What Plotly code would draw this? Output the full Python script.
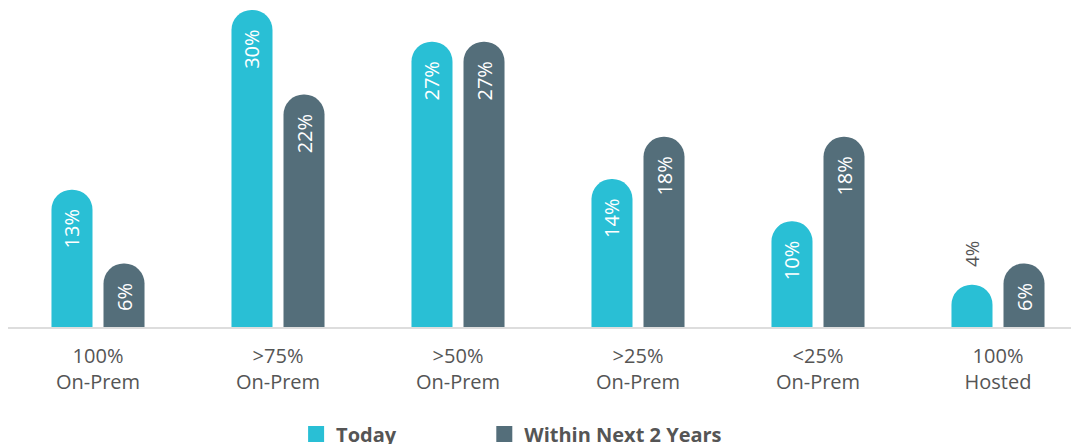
import plotly.graph_objects as go

categories = ["100%<br>On-Prem", ">75%<br>On-Prem", ">50%<br>On-Prem",
              ">25%<br>On-Prem", "<25%<br>On-Prem", "100%<br>Hosted"]
today = [13, 30, 27, 14, 10, 4]
next2 = [6, 22, 27, 18, 18, 6]
series_names = ["Today", "Within Next 2 Years"]
colors = ["#29BFD5", "#546E7A"]

FONT = "Open Sans"
NB = "\u00a0"

def labels(vals):
    out = []
    for v in vals:
        if v < 5:
            out.append(NB * 3 + f"{v}%")
        else:
            out.append(f"{v}%" + NB * 2)
    return out

def text_pos(vals):
    return ["outside" if v < 5 else "inside" for v in vals]

legend_pad = [NB * 16, ""]

fig = go.Figure()
for name, vals, col, pad in zip(series_names, [today, next2], colors, legend_pad):
    fig.add_trace(go.Bar(
        x=categories, y=vals, name=name,
        marker=dict(color=col, cornerradius="50%", line=dict(width=0)),
        text=labels(vals),
        textposition=text_pos(vals),
        insidetextanchor="end",
        textangle=-90,
        insidetextfont=dict(family=FONT, size=20, color="white"),
        outsidetextfont=dict(family=FONT, size=20, color="#555555"),
        cliponaxis=False,
        showlegend=False,
    ))
    fig.add_trace(go.Scatter(
        x=[None], y=[None], mode="markers", name=name + pad,
        marker=dict(symbol="square", size=16, color=col),
        showlegend=True,
    ))

fig.update_layout(
    width=1071, height=436,
    margin=dict(l=0, r=0, t=2, b=117, autoexpand=False),
    paper_bgcolor="white", plot_bgcolor="white",
    barmode="group", bargap=0.422, bargroupgap=0.2115,
    font=dict(family=FONT, size=20, color="#555555"),
    xaxis=dict(showline=True, linecolor="#DDDDDD", linewidth=2,
               showgrid=False, ticks="", range=[-0.5, 5.45], automargin=False,
               ticklabelstandoff=10,
               tickfont=dict(family=FONT, size=20, color="#555555")),
    yaxis=dict(visible=False, range=[0, 30], showgrid=False, automargin=False),
    legend=dict(orientation="h", x=0.269, xanchor="left",
                yref="container", y=0.023, yanchor="middle",
                font=dict(family=FONT, size=20, color="#555555", weight="bold"),
                itemwidth=30),
)

fig.write_html("out.html")
